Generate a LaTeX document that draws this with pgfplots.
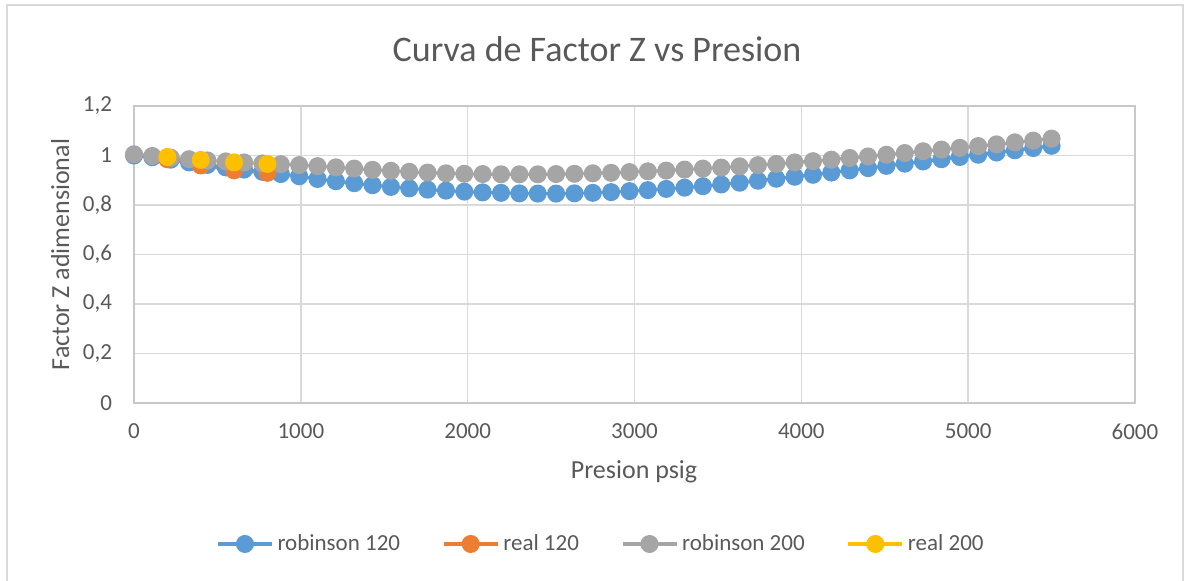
\documentclass[border=0pt]{standalone}
\usepackage{fontspec}
\setmainfont{Carlito}
\usepackage{pgfplots}
\pgfplotsset{compat=1.18}
\definecolor{cblue}{HTML}{5B9BD5}
\definecolor{corange}{HTML}{ED7D31}
\definecolor{cgray}{HTML}{A5A5A5}
\definecolor{cyellow}{HTML}{FFC000}
\definecolor{ctext}{HTML}{595959}
\definecolor{cgrid}{HTML}{D9D9D9}
\definecolor{caxis}{HTML}{C8C8C8}

\pgfplotstableread{
x y
0 1.000
110 0.993
220 0.983
330 0.972
440 0.962
550 0.952
660 0.943
770 0.934
880 0.925
990 0.916
1100 0.905
1210 0.896
1320 0.888
1430 0.880
1540 0.873
1650 0.867
1760 0.862
1870 0.858
1980 0.854
2090 0.851
2200 0.849
2310 0.847
2420 0.846
2530 0.846
2640 0.847
2750 0.849
2860 0.852
2970 0.856
3080 0.860
3190 0.865
3300 0.870
3410 0.876
3520 0.883
3630 0.890
3740 0.898
3850 0.906
3960 0.914
4070 0.922
4180 0.931
4290 0.940
4400 0.949
4510 0.958
4620 0.967
4730 0.976
4840 0.985
4950 0.994
5060 1.003
5170 1.012
5280 1.021
5390 1.030
5500 1.039
}\robA

\pgfplotstableread{
x y
200 0.985
400 0.960
600 0.940
800 0.930
}\realA

\pgfplotstableread{
x y
0 1.005
110 0.998
220 0.991
330 0.985
440 0.980
550 0.976
660 0.972
770 0.968
880 0.965
990 0.961
1100 0.957
1210 0.952
1320 0.947
1430 0.942
1540 0.938
1650 0.934
1760 0.931
1870 0.928
1980 0.926
2090 0.925
2200 0.924
2310 0.924
2420 0.924
2530 0.925
2640 0.926
2750 0.928
2860 0.930
2970 0.933
3080 0.936
3190 0.939
3300 0.943
3410 0.947
3520 0.951
3630 0.956
3740 0.961
3850 0.966
3960 0.972
4070 0.977
4180 0.983
4290 0.990
4400 0.996
4510 1.003
4620 1.010
4730 1.017
4840 1.024
4950 1.031
5060 1.038
5170 1.045
5280 1.053
5390 1.060
5500 1.068
}\robB

\pgfplotstableread{
x y
200 0.994
400 0.982
600 0.972
800 0.966
}\realB

\begin{document}
\begin{tikzpicture}
\useasboundingbox (0,0) rectangle (595pt,290.5pt);
\draw[cgrid, line width=0.8pt] (3.5pt,-5pt) -- (3.5pt,288pt) -- (591.5pt,288pt) -- (591.5pt,-5pt);
\begin{axis}[
  at={(67pt,89pt)}, anchor=south west,
  scale only axis, width=500.5pt, height=148.5pt,
  xmin=0, xmax=6000, ymin=0, ymax=1.2,
  xtick={0,1000,...,6000}, ytick={0,0.2,...,1.2},
  xmajorgrids, ymajorgrids,
  grid style={cgrid, line width=0.8pt},
  axis line style={caxis, line width=0.8pt},
  major tick length=0pt,
  tick style={draw=none},
  /pgf/number format/assume math mode=true,
  /pgf/number format/use comma,
  /pgf/number format/1000 sep={},
  ticklabel style={font=\fontsize{11.5}{13}\selectfont, text=ctext},
  yticklabel style={xshift=-7.5pt},
  xticklabel style={yshift=-7pt},
  clip=false,
  legend columns=4,
  legend style={at={(0.4675,-0.4747)}, anchor=center, draw=none, fill=none,
    font=\fontsize{11.5}{13}\selectfont, text=ctext,
    /tikz/every even column/.append style={column sep=19pt}},
  legend image code/.code={\draw[mark repeat=2,mark phase=2] plot coordinates {(0pt,0pt)(13.5pt,0pt)(27pt,0pt)};},
  every axis plot/.append style={line width=1.6pt, mark=*, mark size=3.7pt, mark options={solid}},
]
\addplot[color=cblue, mark options={fill=cblue, draw=cblue}] table {\robA};
\addlegendentry{robinson 120}
\addplot[color=corange, mark options={fill=corange, draw=corange}] table {\realA};
\addlegendentry{real 120}
\addplot[color=cgray, mark options={fill=cgray, draw=cgray}] table {\robB};
\addlegendentry{robinson 200}
\addplot[color=cyellow, mark options={fill=cyellow, draw=cyellow}] table {\realB};
\addlegendentry{real 200}
\end{axis}
\node[anchor=base, text=ctext, font=\fontsize{18}{21}\selectfont] at (298.5pt,259.5pt) {Curva de Factor Z vs Presion};
\node[anchor=base, text=ctext, font=\fontsize{13}{15}\selectfont] at (317pt,51pt) {Presion psig};
\node[anchor=base, rotate=90, text=ctext, font=\fontsize{13}{15}\selectfont] at (34.5pt,163.25pt) {Factor Z adimensional};
\end{tikzpicture}
\end{document}
